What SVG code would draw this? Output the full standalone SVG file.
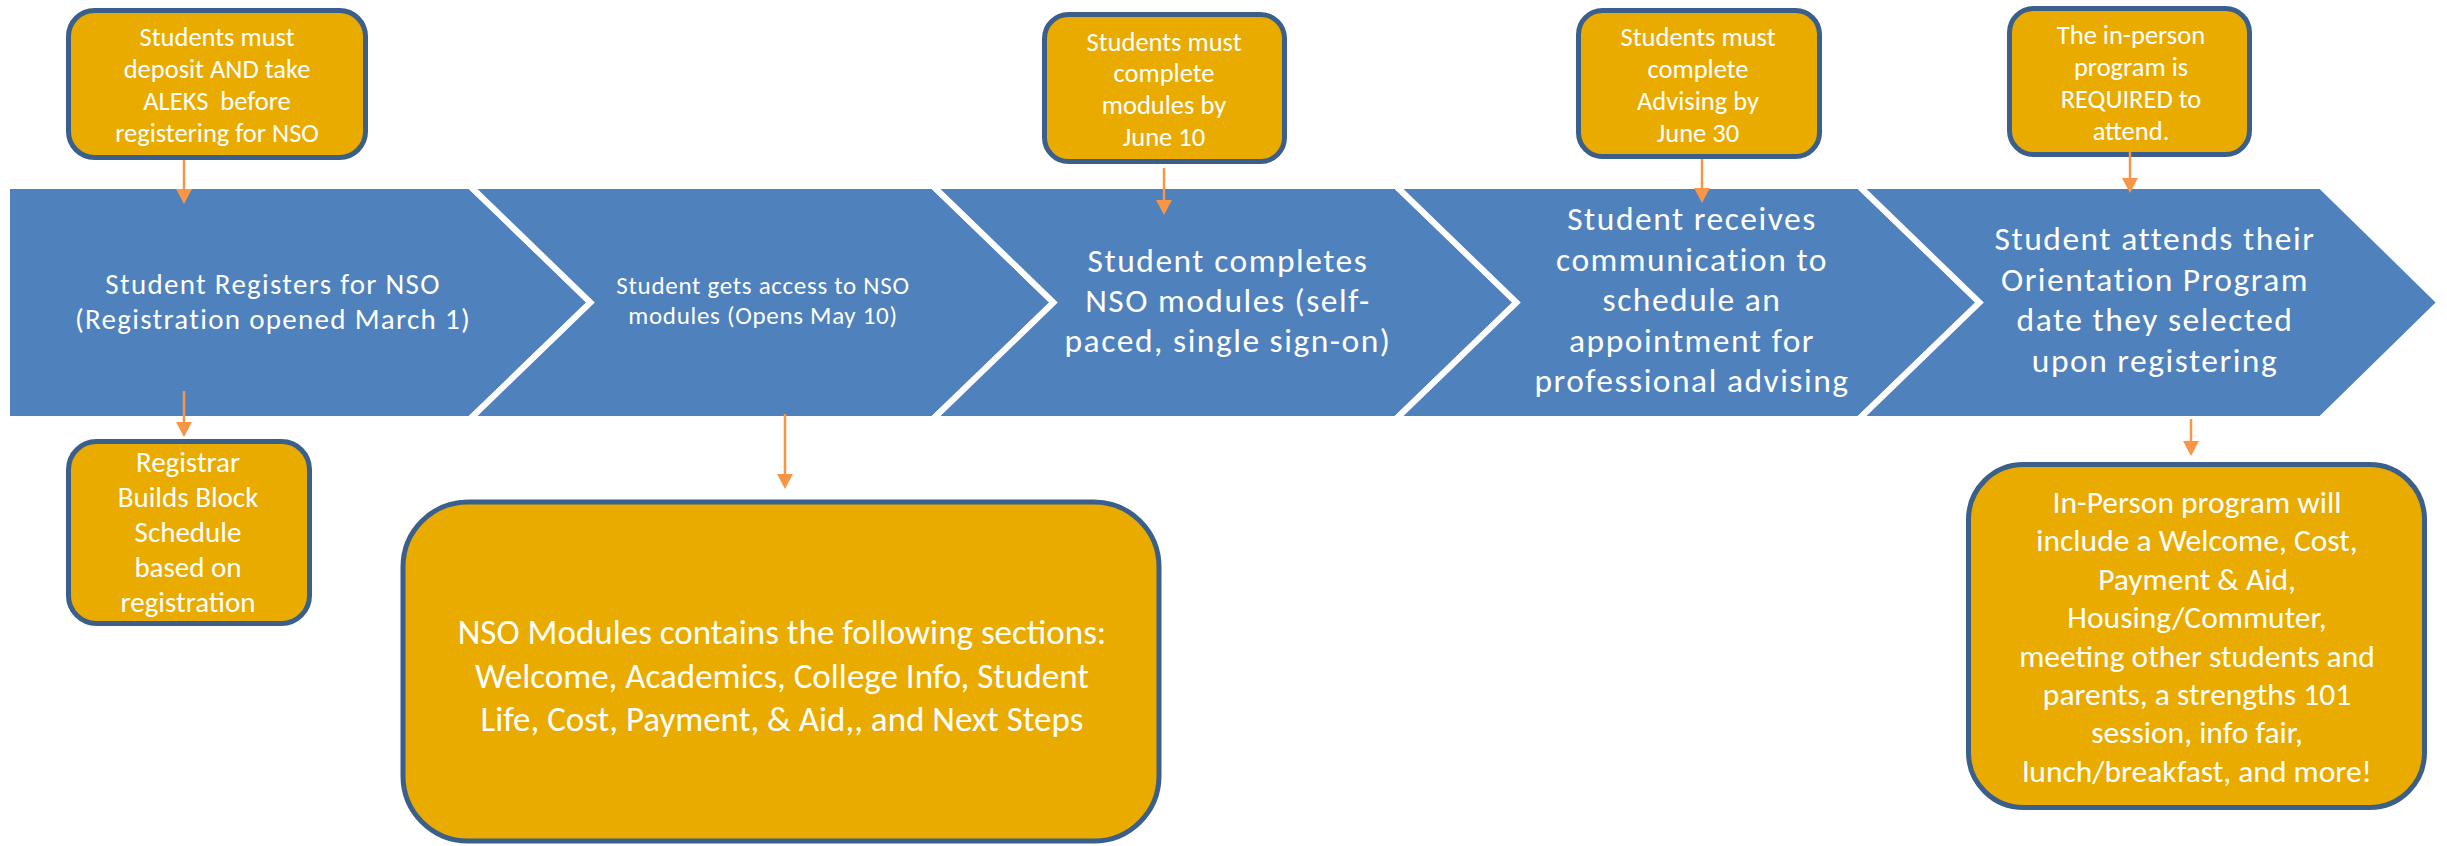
<svg xmlns="http://www.w3.org/2000/svg" width="2447" height="846" viewBox="0 0 2447 846">
<defs>
<style>
.chev{fill:#4F81BD;stroke:#FFFFFF;stroke-width:6;stroke-linejoin:miter}
.box{fill:#EAAB00;stroke:#3A5F8B;stroke-width:5}
.t{font-family:Carlito,Lato,"Liberation Sans",sans-serif;fill:#FFFFFF;text-anchor:middle}
.c1{font-size:29px;letter-spacing:1.3px}
.c2{font-size:25px;letter-spacing:0.7px}
.cb{font-size:33.5px;letter-spacing:1.5px}
.conn line{stroke:#F79646;stroke-width:2.5;marker-end:url(#ah)}
</style>
<marker id="ah" markerUnits="userSpaceOnUse" viewBox="0 0 15 16" markerWidth="15" markerHeight="16" refX="5" refY="8" orient="auto">
<path d="M0,0 L15,8 L0,16 z" fill="#F79646"/>
</marker>
</defs>
<rect width="2447" height="846" fill="#FFFFFF"/>

<g id="chevron1">
<polygon class="chev" points="7,186 470,186 590.5,302.5 470,419 7,419"/>
<text class="t c1" x="273" y="294">Student Registers for NSO</text>
<text class="t c1" x="273" y="329">(Registration opened March 1)</text>
</g>
<g id="chevron2">
<polygon class="chev" points="470,186 933,186 1053.5,302.5 933,419 470,419 590.5,302.5"/>
<text class="t c2" x="763" y="294">Student gets access to NSO</text>
<text class="t c2" x="763" y="324">modules (Opens May 10)</text>
</g>
<g id="chevron3">
<polygon class="chev" points="933,186 1396,186 1516.5,302.5 1396,419 933,419 1053.5,302.5"/>
<text class="t cb" x="1228" y="272">Student completes</text>
<text class="t cb" x="1228" y="312">NSO modules (self-</text>
<text class="t cb" x="1228" y="352">paced, single sign-on)</text>
</g>
<g id="chevron4">
<polygon class="chev" points="1396,186 1859,186 1979.5,302.5 1859,419 1396,419 1516.5,302.5"/>
<text class="t cb" x="1692" y="230">Student receives</text>
<text class="t cb" x="1692" y="271">communication to</text>
<text class="t cb" x="1692" y="311">schedule an</text>
<text class="t cb" x="1692" y="352">appointment for</text>
<text class="t cb" x="1692" y="392">professional advising</text>
</g>
<g id="chevron5">
<polygon class="chev" points="1859,186 2321,186 2440,302.5 2321,419 1859,419 1979.5,302.5"/>
<text class="t cb" x="2155" y="250">Student attends their</text>
<text class="t cb" x="2155" y="290.5">Orientation Program</text>
<text class="t cb" x="2155" y="331">date they selected</text>
<text class="t cb" x="2155" y="371.5">upon registering</text>
</g>

<g id="note-deposit">
<rect class="box" x="68.5" y="10.5" width="297" height="147" rx="26"/>
<text class="t" font-size="26.5" x="217" y="46">Students must</text>
<text class="t" font-size="26.5" x="217" y="78">deposit AND take</text>
<text class="t" font-size="26.5" x="217" y="110">ALEKS&#160; before</text>
<text class="t" font-size="26.5" x="217" y="142">registering for NSO</text>
</g>
<g id="note-registrar">
<rect class="box" x="68.5" y="441.5" width="241" height="182" rx="28"/>
<text class="t" font-size="29" x="188" y="472">Registrar</text>
<text class="t" font-size="29" x="188" y="507">Builds Block</text>
<text class="t" font-size="29" x="188" y="542">Schedule</text>
<text class="t" font-size="29" x="188" y="577">based on</text>
<text class="t" font-size="29" x="188" y="612">registration</text>
</g>
<g id="note-modules-deadline">
<rect class="box" x="1044.5" y="14.5" width="240" height="147" rx="24"/>
<text class="t" font-size="26.5" x="1164" y="51">Students must</text>
<text class="t" font-size="26.5" x="1164" y="82">complete</text>
<text class="t" font-size="26.5" x="1164" y="114">modules by</text>
<text class="t" font-size="26.5" x="1164" y="146">June 10</text>
</g>
<g id="note-advising-deadline">
<rect class="box" x="1578.5" y="10.5" width="241" height="146" rx="24"/>
<text class="t" font-size="26.5" x="1698" y="46">Students must</text>
<text class="t" font-size="26.5" x="1698" y="78">complete</text>
<text class="t" font-size="26.5" x="1698" y="110">Advising by</text>
<text class="t" font-size="26.5" x="1698" y="142">June 30</text>
</g>
<g id="note-required">
<rect class="box" x="2009.5" y="8.5" width="240" height="146" rx="24"/>
<text class="t" font-size="26.5" x="2131" y="44">The in-person</text>
<text class="t" font-size="26.5" x="2131" y="76">program is</text>
<text class="t" font-size="26.5" x="2131" y="108">REQUIRED to</text>
<text class="t" font-size="26.5" x="2131" y="140">attend.</text>
</g>
<g id="note-modules-sections">
<rect class="box" x="403" y="502" width="756" height="339" rx="65"/>
<text class="t" font-size="35" x="782" y="644">NSO Modules contains the following sections:</text>
<text class="t" font-size="35" x="782" y="688">Welcome, Academics, College Info, Student</text>
<text class="t" font-size="35" x="782" y="731">Life, Cost, Payment, &amp; Aid,, and Next Steps</text>
</g>
<g id="note-in-person">
<rect class="box" x="1968.5" y="464.5" width="456" height="343" rx="55"/>
<text class="t" font-size="31.5" x="2197" y="513">In-Person program will</text>
<text class="t" font-size="31.5" x="2197" y="551">include a Welcome, Cost,</text>
<text class="t" font-size="31.5" x="2197" y="590">Payment &amp; Aid,</text>
<text class="t" font-size="31.5" x="2197" y="628">Housing/Commuter,</text>
<text class="t" font-size="31.5" x="2197" y="667">meeting other students and</text>
<text class="t" font-size="31.5" x="2197" y="705">parents, a strengths 101</text>
<text class="t" font-size="31.5" x="2197" y="743">session, info fair,</text>
<text class="t" font-size="31.5" x="2197" y="782">lunch/breakfast, and more!</text>
</g>

<g id="connectors" class="conn">
<line x1="184" y1="160" x2="184" y2="194"/>
<line x1="184" y1="391" x2="184" y2="427"/>
<line x1="1164" y1="168" x2="1164" y2="205"/>
<line x1="785" y1="414" x2="785" y2="479"/>
<line x1="1702" y1="159" x2="1702" y2="193"/>
<line x1="2130" y1="152" x2="2130" y2="183"/>
<line x1="2191" y1="419" x2="2191" y2="446"/>
</g>
</svg>
